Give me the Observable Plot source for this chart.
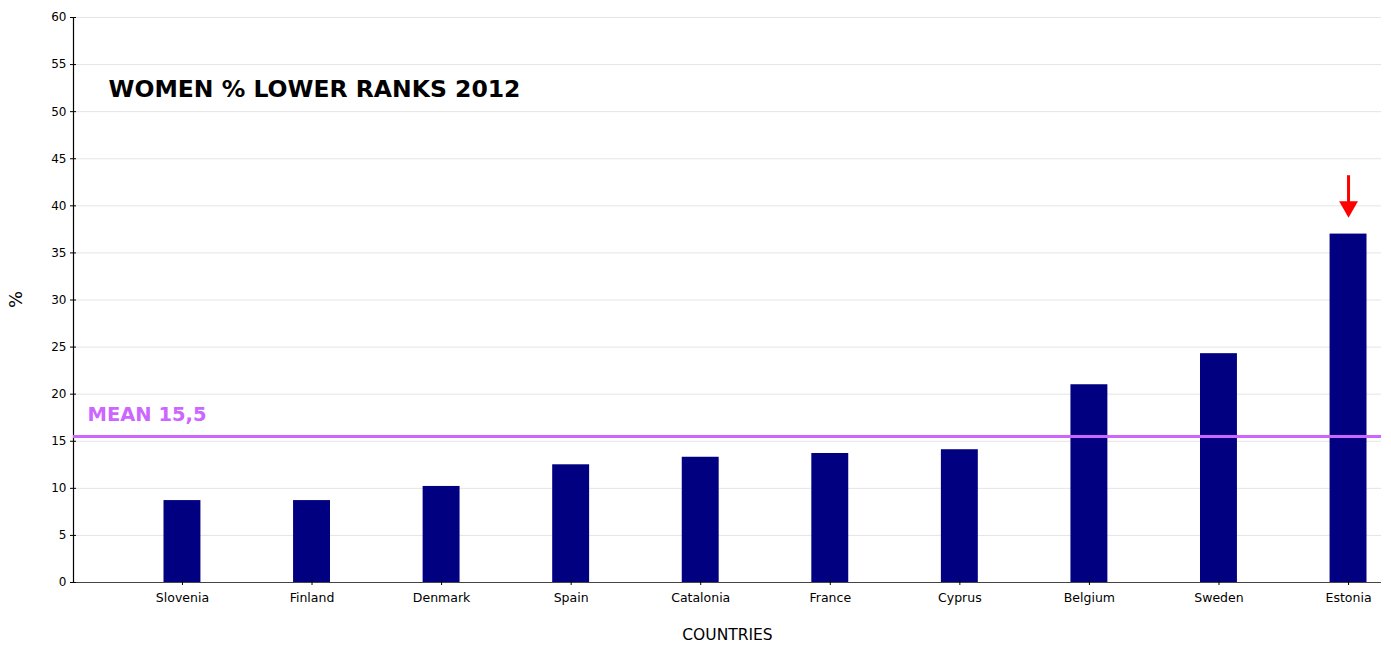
<!DOCTYPE html>
<html>
<head>
<meta charset="utf-8">
<script src="https://cdn.jsdelivr.net/npm/d3@7"></script>
<script src="https://cdn.jsdelivr.net/npm/@observablehq/plot@0.6"></script>
<style>
  body { margin: 0; background: #fff; }
  #chart svg { display: block; }
</style>
</head>
<body>
<div id="chart"></div>
<script>
const countries = ["Slovenia", "Finland", "Denmark", "Spain", "Catalonia", "France", "Cyprus", "Belgium", "Sweden", "Estonia"];
const values = [8.7, 8.7, 10.2, 12.5, 13.3, 13.7, 14.1, 21.0, 24.3, 37.0];
const meanValue = 15.5;
const meanLabel = "MEAN 15,5";
const title = "WOMEN % LOWER RANKS 2012";
const yTicks = [0, 5, 10, 15, 20, 25, 30, 35, 40, 45, 50, 55, 60];
const highlight = "Estonia";
const arrowFrom = 43.2;
const arrowTo = 39.9;

const data = countries.map((c, i) => ({country: c, value: values[i]}));
const font = "'DejaVu Sans', sans-serif";

const chart = Plot.plot({
  width: 1391,
  height: 646,
  marginLeft: 73,
  marginRight: 10,
  marginTop: 17,
  marginBottom: 64,
  style: {fontFamily: font, fontSize: "12px", color: "#000", background: "#fff"},
  x: {domain: countries, range: [163.5, 1366.5], paddingInner: 0.715, paddingOuter: 0, round: false, label: null},
  y: {domain: [0, 60], ticks: yTicks, label: null},
  marks: [
    Plot.gridY(yTicks, {stroke: "#e4e4e4", strokeOpacity: 1}),
    Plot.barY(data, {x: "country", y: "value", fill: "#000080"}),
    Plot.ruleY([0], {stroke: "#444", strokeWidth: 1.2}),
    Plot.frame({anchor: "left", stroke: "#000", strokeWidth: 1.2}),
    Plot.axisY(yTicks, {tickSize: 3, tickPadding: 4, fontSize: 12, tickFormat: d => String(d)}),
    Plot.axisY(yTicks, {tickSize: -3, tickFormat: () => "", label: null}),
    Plot.axisX({tickSize: 3, tickPadding: 8, fontSize: 12.5, label: null}),
    Plot.ruleX(countries, {x: d => d, y1: 0, y2: 0.3, stroke: "#000"}),
    Plot.ruleY([meanValue], {stroke: "#cc66ff", strokeWidth: 3}),
    Plot.text([meanLabel], {frameAnchor: "left", y: meanValue, dx: 14, dy: -22, text: d => d, fill: "#cc66ff", fontSize: 19.5, fontWeight: 600, textAnchor: "start"}),
    Plot.text([title], {frameAnchor: "top-left", dx: 35, dy: 63, text: d => d, fill: "#000", fontSize: 23.5, fontWeight: "bold", textAnchor: "start"}),
    Plot.ruleX([highlight], {x: d => d, y1: arrowFrom, y2: arrowTo, stroke: "#ff0000", strokeWidth: 3}),
    Plot.dot([highlight], {x: d => d, y: arrowTo, symbol: "triangle", rotate: 180, r: 7, fill: "#ff0000", stroke: null}),
    Plot.text(["COUNTRIES"], {frameAnchor: "bottom", dy: 57, text: d => d, fontSize: 15.5, fill: "#000"}),
    Plot.text(["%"], {frameAnchor: "left", dx: -57, dy: 8, text: d => d, rotate: -90, fontSize: 18, fill: "#000"})
  ]
});
document.getElementById("chart").append(chart);
</script>
</body>
</html>
